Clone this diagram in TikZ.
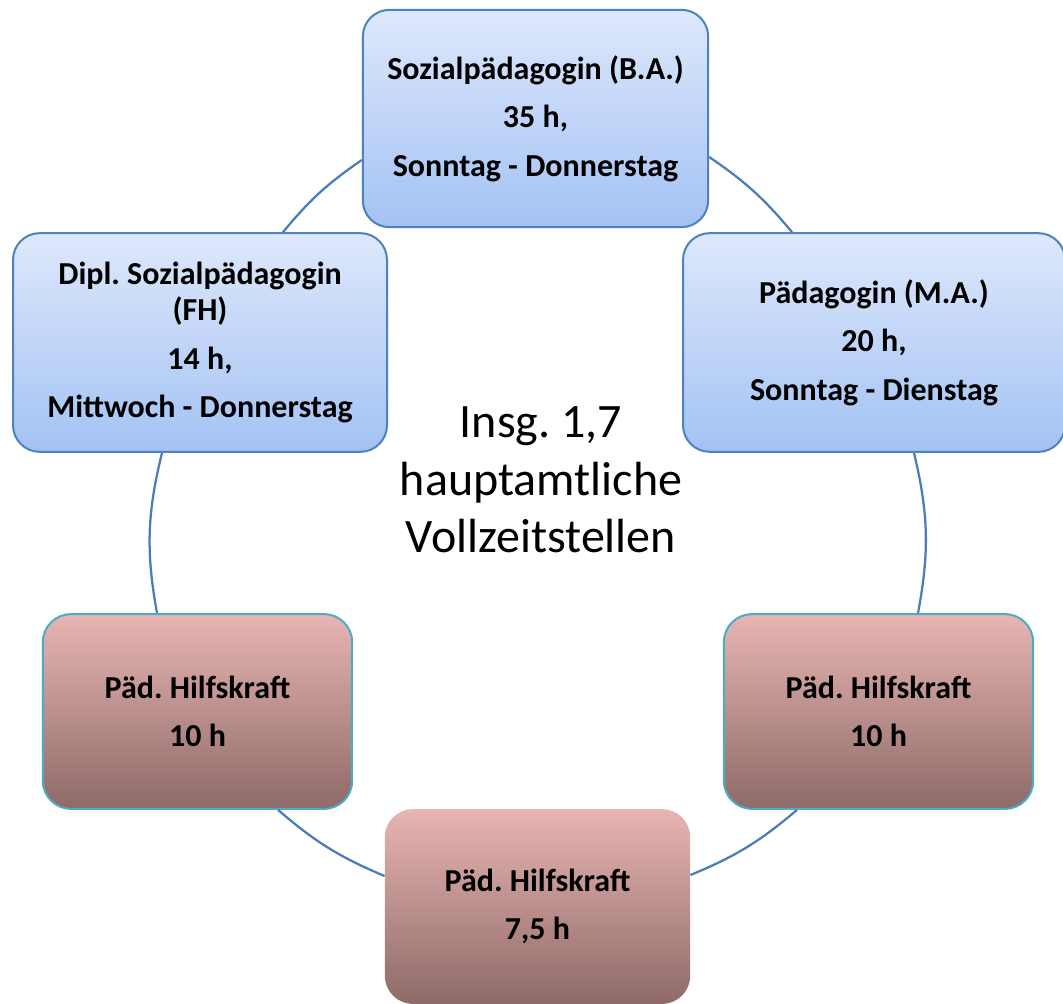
\documentclass[tikz,border=0pt]{standalone}
\usepackage{fontspec}
\setmainfont{Carlito}
\frenchspacing
\definecolor{ringblue}{RGB}{74,126,187}
\definecolor{boxblue}{RGB}{79,129,189}
\definecolor{bluetop}{RGB}{222,232,251}
\definecolor{bluebot}{RGB}{163,194,244}
\definecolor{redtop}{RGB}{231,181,179}
\definecolor{redbot}{RGB}{142,106,104}
\definecolor{tealline}{RGB}{75,172,198}

\tikzset{
  job/.style={align=center, inner sep=0pt,
    font=\bfseries\fontsize{24pt}{27pt}\selectfont},
  fulljob/.style={job, rounded corners=20pt, draw=boxblue, line width=1.5pt,
    top color=bluetop, bottom color=bluebot, minimum height=164pt},
  helper/.style={job, rounded corners=21pt, top color=redtop, bottom color=redbot,
    minimum width=232pt, minimum height=146pt},
  ring/.style={draw=ringblue, line width=1.7pt},
}

\begin{document}
\begin{tikzpicture}[x=0.75pt,y=0.75pt]
    \useasboundingbox (0,0) rectangle (1063,-1003);
    % staff on full positions
    \node[fulljob, minimum width=259pt, minimum height=163pt] (sozba) at (535.5,-118.5)
        {Sozialpädagogin (B.A.)\\[9.5pt]35 h,\\[9.5pt] Sonntag - Donnerstag};
    \node[fulljob, minimum width=286.5pt] (ma) at (874,-342.5)
        {Pädagogin (M.A.)\\[9.5pt]20 h,\\[9.5pt]Sonntag - Dienstag};
    \node[fulljob, minimum width=280.5pt] (dipl) at (200,-342.5)
        {Dipl. Sozialpädagogin\\(FH)\\[9.5pt]14 h,\\[9.5pt]Mittwoch - Donnerstag};
    % helpers
    \node[helper, draw=tealline, line width=1.5pt] (hkl) at (197.5,-711.5)
        {Päd. Hilfskraft\\[9.5pt]10 h};
    \node[helper, draw=tealline, line width=1.5pt] (hkr) at (878.5,-711.5)
        {Päd. Hilfskraft\\[9.5pt]10 h};
    \node[helper, minimum width=229pt] (hkb) at (537.5,-906.5)
        {Päd. Hilfskraft\\[9.5pt]7,5 h};
    % total in the middle
    \node[align=center, font=\fontsize{36pt}{43pt}\selectfont] (total) at (541,-480)
        {Insg. 1,7\\hauptamtliche\\Vollzeitstellen};
    % the cycle
    \draw[ring] (sozba.west |- 0,-160) to[bend right=8] (dipl.north -| 283,0);
    \draw[ring] (dipl.south -| 162,0) to[bend right=12] (hkl.north -| 157,0);
    \draw[ring] (hkl.south -| 278,0) to[bend right=9] (hkb.west |- 0,-876);
    \draw[ring] (hkb.east |- 0,-875) to[bend right=9] (hkr.south -| 797,0);
    \draw[ring] (hkr.north -| 918,0) to[bend right=12] (ma.south -| 914,0);
    \draw[ring] (ma.north -| 792,0) to[bend right=8] (sozba.east |- 0,-157);
\end{tikzpicture}
\end{document}
